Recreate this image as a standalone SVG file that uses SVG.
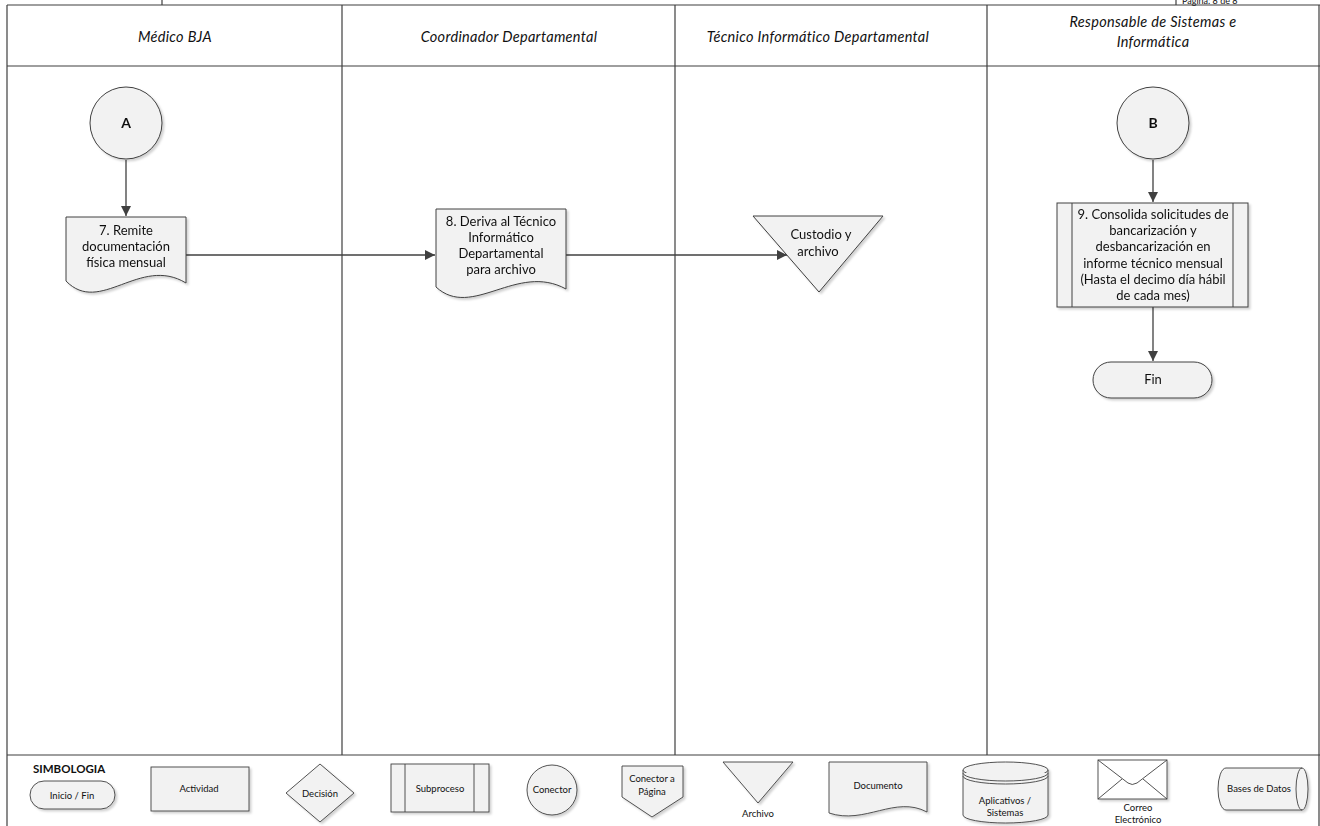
<svg xmlns="http://www.w3.org/2000/svg" width="1320" height="826" viewBox="0 0 1320 826">
<style>
.frame{fill:none;stroke:#3f3f3f;stroke-width:1.2}
.shape{fill:#f2f2f2;stroke:#404040;stroke-width:1}
.lg{fill:#f2f2f2;stroke:#404040;stroke-width:0.9}
.conn{fill:none;stroke:#404040;stroke-width:1.3}
.lane{font-family:Lato,"Liberation Sans",sans-serif;font-style:italic;font-size:14.5px;fill:#111;text-anchor:middle;letter-spacing:0.3px}
.t{font-family:Lato,"Liberation Sans",sans-serif;font-size:13px;fill:#111;text-anchor:middle}
.b{font-family:Lato,"Liberation Sans",sans-serif;font-size:14px;font-weight:bold;fill:#111;text-anchor:middle}
.s{font-family:Lato,"Liberation Sans",sans-serif;font-size:9.5px;fill:#111;text-anchor:middle}
.sb{font-family:Lato,"Liberation Sans",sans-serif;font-size:11.5px;font-weight:bold;fill:#111}
</style>
<defs>
<marker id="arr" viewBox="0 0 10 10" refX="10" refY="5" markerWidth="10" markerHeight="10" markerUnits="userSpaceOnUse" orient="auto">
<path d="M0,0 L10,5 L0,10 z" fill="#404040"/>
</marker>
<filter id="sh" x="-10%" y="-10%" width="130%" height="130%">
<feDropShadow dx="2" dy="2" stdDeviation="1" flood-color="#000" flood-opacity="0.18"/>
</filter>
</defs>
<rect width="1320" height="826" fill="#fff"/>

<g id="frame">
<line class="frame" x1="7" y1="5" x2="1320" y2="5"/>
<line class="frame" x1="162" y1="0" x2="162" y2="5"/>
<line class="frame" x1="1176" y1="0" x2="1176" y2="5"/>
<text x="1182" y="3.5" font-family="Lato,'Liberation Sans',sans-serif" font-size="9px" fill="#111">Página: 8 de 8</text>
<line class="frame" x1="7" y1="5" x2="7" y2="826"/>
<line class="frame" x1="1319" y1="5" x2="1319" y2="826"/>
<line class="frame" x1="7" y1="66" x2="1320" y2="66"/>
<line class="frame" x1="342" y1="5" x2="342" y2="755"/>
<line class="frame" x1="675" y1="5" x2="675" y2="755"/>
<line class="frame" x1="987" y1="5" x2="987" y2="755"/>
<line class="frame" x1="7" y1="755" x2="1320" y2="755"/>
<text class="lane" x="175" y="42">Médico BJA</text>
<text class="lane" x="509" y="42">Coordinador Departamental</text>
<text class="lane" x="818" y="42">Técnico Informático Departamental</text>
<text class="lane" x="1153" y="27">Responsable de Sistemas e</text>
<text class="lane" x="1153" y="47">Informática</text>
</g>

<g id="connectors">
<line class="conn" x1="126" y1="160" x2="126" y2="216" marker-end="url(#arr)"/>
<line class="conn" x1="186" y1="255" x2="435" y2="255" marker-end="url(#arr)"/>
<line class="conn" x1="566" y1="255" x2="787" y2="255" marker-end="url(#arr)"/>
<line class="conn" x1="1153" y1="160" x2="1153" y2="202" marker-end="url(#arr)"/>
<line class="conn" x1="1153" y1="307" x2="1153" y2="361" marker-end="url(#arr)"/>
</g>

<g id="nodeA" filter="url(#sh)">
<circle class="shape" cx="126" cy="123" r="36"/>
<text class="b" x="126" y="128">A</text>
</g>

<g id="node7" filter="url(#sh)">
<path class="shape" d="M66,217 H186 V283 C140,255 100,316 66,281 Z"/>
<text class="t" x="126" y="235">7. Remite</text>
<text class="t" x="126" y="251">documentación</text>
<text class="t" x="126" y="267">física mensual</text>
</g>

<g id="node8" filter="url(#sh)">
<path class="shape" d="M436,209 H566 V289 C517,262 472,320 436,287 Z"/>
<text class="t" x="501" y="226">8. Deriva al Técnico</text>
<text class="t" x="501" y="242">Informático</text>
<text class="t" x="501" y="258">Departamental</text>
<text class="t" x="501" y="274">para archivo</text>
</g>

<g id="archivo" filter="url(#sh)">
<path class="shape" d="M753,216 H883 L819,292 Z"/>
<text class="t" x="821" y="239">Custodio y</text>
<text class="t" x="818" y="256">archivo</text>
</g>

<g id="nodeB" filter="url(#sh)">
<circle class="shape" cx="1153" cy="123" r="36"/>
<text class="b" x="1153" y="128">B</text>
</g>

<g id="node9" filter="url(#sh)">
<rect class="shape" x="1057" y="203" width="191" height="104"/>
<line class="shape" x1="1072" y1="203" x2="1072" y2="307"/>
<line class="shape" x1="1233" y1="203" x2="1233" y2="307"/>
<text class="t" x="1153" y="219">9. Consolida solicitudes de</text>
<text class="t" x="1153" y="235">bancarización y</text>
<text class="t" x="1153" y="251">desbancarización en</text>
<text class="t" x="1153" y="268">informe técnico mensual</text>
<text class="t" x="1153" y="284">(Hasta el decimo día hábil</text>
<text class="t" x="1153" y="300">de cada mes)</text>
</g>

<g id="fin" filter="url(#sh)">
<rect class="shape" x="1093" y="362" width="119" height="36" rx="18"/>
<text class="t" x="1153" y="384">Fin</text>
</g>

<g id="simbologia">
<text class="sb" x="33" y="773">SIMBOLOGIA</text>
<g filter="url(#sh)">
<rect class="lg" x="30" y="781" width="85" height="28" rx="14"/>
<rect class="lg" x="151" y="767" width="98" height="44"/>
<path class="lg" d="M320,764 L354,793 L320,822 L286,793 Z"/>
<rect class="lg" x="391" y="764" width="98" height="48"/>
<line class="lg" x1="405" y1="764" x2="405" y2="812"/>
<line class="lg" x1="474" y1="764" x2="474" y2="812"/>
<circle class="lg" cx="552" cy="790" r="25"/>
<path class="lg" d="M622,766 H683 V797 L652,817 L622,797 Z"/>
<path class="lg" d="M723,762 H793 L758,803 Z"/>
<path class="lg" d="M829,762 H927 V812 C895,795 865,825 829,813 Z"/>
<path class="lg" d="M963,770 V815 A42.5,8 0 0,0 1048,815 V770"/>
<ellipse class="lg" cx="1005.5" cy="770" rx="42.5" ry="8"/>
<path class="lg" fill="none" d="M963,773 A42.5,8 0 0,0 1048,773 M963,776 A42.5,8 0 0,0 1048,776"/>
<rect x="1098" y="760" width="69" height="39" fill="#fff" stroke="#404040" stroke-width="0.9"/>
<path fill="none" stroke="#404040" stroke-width="0.9" d="M1098,760 L1128,783 Q1132,786 1137,783 L1167,760 M1098,799 L1122,779 M1167,799 L1143,779"/>
<path class="lg" d="M1226,768 H1302 A6,21 0 0,1 1302,810 H1226 A8,21 0 0,1 1226,768 Z"/>
<path fill="none" stroke="#404040" stroke-width="0.9" d="M1302,768 A6,21 0 0,0 1302,810"/>
</g>
<text class="s" x="72" y="799">Inicio / Fin</text>
<text class="s" x="199" y="792">Actividad</text>
<text class="s" x="320" y="797">Decisión</text>
<text class="s" x="440" y="792">Subproceso</text>
<text class="s" x="552" y="793">Conector</text>
<text class="s" x="652" y="782">Conector a</text>
<text class="s" x="652" y="795">Página</text>
<text class="s" x="758" y="817">Archivo</text>
<text class="s" x="878" y="789">Documento</text>
<text class="s" x="1005" y="804">Aplicativos /</text>
<text class="s" x="1005" y="816">Sistemas</text>
<text class="s" x="1138" y="811">Correo</text>
<text class="s" x="1138" y="823">Electrónico</text>
<text class="s" x="1259" y="792" font-size="9px">Bases de Datos</text>
</g>
</svg>
